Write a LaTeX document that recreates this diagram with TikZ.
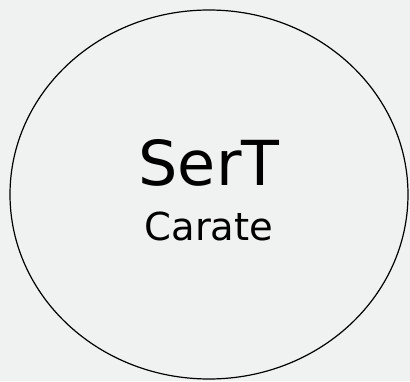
\documentclass[tikz,border=0pt]{standalone}
\usepackage{fontspec}
\setmainfont{DejaVu Sans}
\definecolor{bg}{HTML}{F0F1F1}
\begin{document}
\begin{tikzpicture}[x=1pt,y=1pt,
  lbl/.style={inner sep=0pt, anchor=base, text=black}]
\fill[bg] (0,0) rectangle (410,381);
\useasboundingbox (0,0) rectangle (410,381);
\draw[line width=1.2pt, fill=bg] (209,186.5) ellipse [x radius=199, y radius=184.5];
\node[lbl, font=\fontsize{62}{62}\selectfont] (t) at (209,196) {SerT};
\node[lbl, font=\fontsize{38.5}{38.5}\selectfont] (s) at (209,141) {Carate};
\end{tikzpicture}
\end{document}
